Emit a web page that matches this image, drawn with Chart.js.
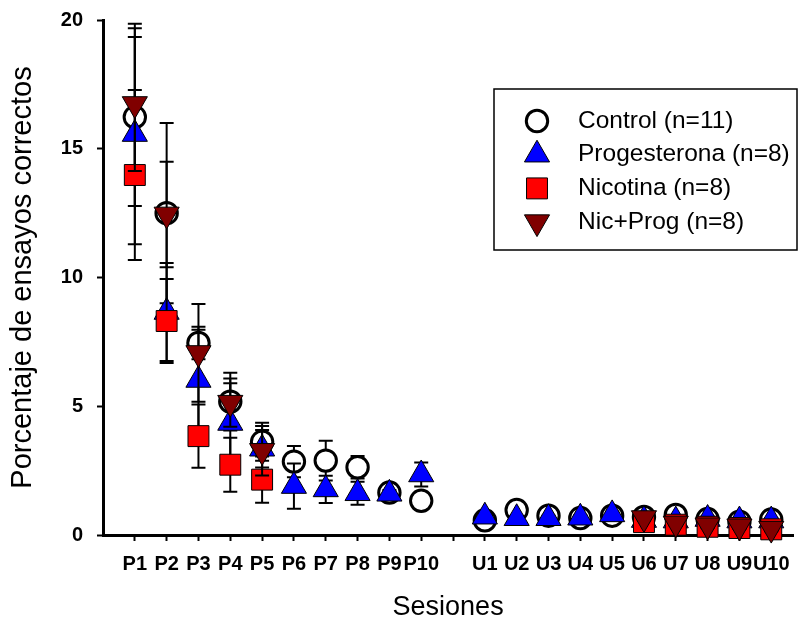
<!DOCTYPE html>
<html>
<head>
<meta charset="utf-8">
<title>Porcentaje de ensayos correctos</title>
<script src="https://cdn.jsdelivr.net/npm/chart.js@4.4.1/dist/chart.umd.min.js"></script>
<style>
  html, body { margin:0; padding:0; background:#fff; }
  #wrap { width:809px; height:625px; position:relative; }
</style>
</head>
<body>
<div id="wrap"><canvas id="chart"></canvas></div>
<script>
const FONT = 'Arial, "Liberation Sans", sans-serif';

// x categories (index 10 is the empty gap between the two phases)
const sessions = ["P1","P2","P3","P4","P5","P6","P7","P8","P9","P10","",
                  "U1","U2","U3","U4","U5","U6","U7","U8","U9","U10"];

const control    = [16.23, 12.5, 7.46, 5.18, 3.62, 2.85, 2.89, 2.63, 1.65, 1.33, null,
                    0.57, 0.97, 0.75, 0.66, 0.75, 0.70, 0.78, 0.62, 0.52, 0.60];
const controlSE  = [3.45, 3.5, 0.63, 1.12, 0.74, 0.61, 0.77, 0.44, 0.15, 0.2, null,
                    0.1, 0.1, 0.1, 0.1, 0.1, 0.1, 0.1, 0.1, 0.1, 0.1];

const progest    = [15.57, 8.66, 6.02, 4.35, 3.35, 1.90, 1.77, 1.62, 1.60, 2.35, null,
                    0.71, 0.65, 0.65, 0.67, 0.80, 0.58, 0.56, 0.62, 0.56, 0.56];
const progestSE  = [4.28, 1.9, 1.95, 1.54, 0.73, 0.88, 0.53, 0.45, 0.15, 0.47, null,
                    0.1, 0.1, 0.1, 0.1, 0.1, 0.1, 0.1, 0.1, 0.1, 0.1];

const nicotina   = [13.98, 8.31, 3.84, 2.73, 2.15, null, null, null, null, null, null,
                    null, null, null, null, null, 0.50, 0.40, 0.32, 0.27, 0.22];
const nicotinaSE = [3.3, 1.63, 1.23, 1.05, 0.9, null, null, null, null, null, null,
                    null, null, null, null, null, 0.1, 0.1, 0.1, 0.1, 0.1];

const nicProg    = [16.74, 12.45, 7.07, 5.14, 3.27, null, null, null, null, null, null,
                    null, null, null, null, null, 0.66, 0.45, 0.38, 0.34, 0.25];
const nicProgSE  = [2.6, 2.05, 1.9, 0.94, 0.96, null, null, null, null, null, null,
                    null, null, null, null, null, 0.1, 0.1, 0.1, 0.1, 0.1];

const yTicks = [0, 5, 10, 15, 20];

function points(vals, se){
  const out = [];
  vals.forEach((v, i) => { if (v !== null) out.push({ x: i, y: v, se: se[i] }); });
  return out;
}

// error bars are drawn per dataset, just before its markers
const errorBars = {
  id: "errorBars",
  beforeDatasetDraw(chart, args){
    const ds = chart.data.datasets[args.index];
    const xs = chart.scales.x, ys = chart.scales.y;
    const ctx = chart.ctx;
    ctx.save();
    ctx.strokeStyle = "#000";
    ctx.lineWidth = 2;
    ds.data.forEach(p => {
      if (!p.se) return;
      const px = xs.getPixelForValue(p.x);
      const top = ys.getPixelForValue(p.y + p.se);
      const bot = ys.getPixelForValue(p.y - p.se);
      ctx.beginPath();
      ctx.moveTo(px, top); ctx.lineTo(px, bot);
      ctx.moveTo(px - 7, top); ctx.lineTo(px + 7, top);
      ctx.moveTo(px - 7, bot); ctx.lineTo(px + 7, bot);
      ctx.stroke();
    });
    ctx.restore();
  }
};

const legendLabels = ["Control (n=11)", "Progesterona (n=8)", "Nicotina (n=8)", "Nic+Prog (n=8)"];

const boxLegend = {
  id: "boxLegend",
  afterDraw(chart){
    const ctx = chart.ctx;
    ctx.save();
    ctx.strokeStyle = "#000";
    ctx.lineWidth = 1.5;
    ctx.strokeRect(494, 89, 303, 161);
    ctx.font = "24.5px " + FONT;
    ctx.textBaseline = "middle";
    ctx.textAlign = "left";
    // legend rows: Control, Progesterona, Nicotina, Nic+Prog
    const order = [3, 2, 1, 0];
    order.forEach((di, row) => {
      const ds = chart.data.datasets[di];
      const y = 121 + row * 33.7;
      ctx.fillStyle = ds.pointBackgroundColor;
      ctx.strokeStyle = ds.pointBorderColor;
      ctx.lineWidth = ds.pointBorderWidth;
      Chart.helpers.drawPoint(ctx, {
        pointStyle: ds.pointStyle, rotation: ds.pointRotation || 0,
        radius: ds.pointRadius, borderWidth: ds.pointBorderWidth
      }, 537, y);
      ctx.fillStyle = "#000";
      ctx.fillText(legendLabels[row], 578, y);
    });
    ctx.restore();
  }
};

new Chart(document.getElementById("chart"), {
  type: "scatter",
  data: {
    datasets: [
      { label: "Nic+Prog (n=8)", data: points(nicProg, nicProgSE), order: 1,
        pointStyle: "triangle", pointRotation: 180, pointRadius: 14.5, pointHoverRadius: 14.5,
        pointBackgroundColor: "#800000", pointBorderColor: "#000", pointBorderWidth: 1 },
      { label: "Nicotina (n=8)", data: points(nicotina, nicotinaSE), order: 2,
        pointStyle: "rect", pointRadius: 14.8, pointHoverRadius: 14.8,
        pointBackgroundColor: "#ff0000", pointBorderColor: "#000", pointBorderWidth: 1 },
      { label: "Progesterona (n=8)", data: points(progest, progestSE), order: 3,
        pointStyle: "triangle", pointRadius: 14.5, pointHoverRadius: 14.5,
        pointBackgroundColor: "#0000ff", pointBorderColor: "#000", pointBorderWidth: 1 },
      { label: "Control (n=11)", data: points(control, controlSE), order: 4,
        pointStyle: "circle", pointRadius: 10.7, pointHoverRadius: 10.7,
        pointBackgroundColor: "#ffffff", pointBorderColor: "#000", pointBorderWidth: 3 }
    ]
  },
  options: {
    responsive: true,
    maintainAspectRatio: false,
    animation: false,
    events: [],
    clip: false,
    layout: { padding: { top: 20, right: 0, bottom: 0, left: 0 } },
    plugins: { legend: { display: false }, tooltip: { enabled: false } },
    scales: {
      x: {
        type: "linear", min: -1, max: 20.69,
        afterBuildTicks(scale){ scale.ticks = sessions.map((s, i) => ({ value: i })); },
        afterFit(scale){ scale.height = 90; scale.paddingLeft = 0; scale.paddingRight = 0; },
        grid: { display: true, drawOnChartArea: false, drawTicks: true, tickLength: 6, tickWidth: 2, tickColor: "#000" },
        border: { display: true, color: "#000", width: 3 },
        ticks: {
          autoSkip: false, maxRotation: 0, minRotation: 0, padding: 11, color: "#000",
          font: { family: FONT, size: 20, weight: "bold" },
          callback: (v, i) => sessions[i]
        },
        title: { display: true, text: "Sesiones", color: "#000",
                 font: { family: FONT, size: 27 }, padding: { top: 0, bottom: 1 } }
      },
      y: {
        min: 0, max: 20,
        afterBuildTicks(scale){ scale.ticks = yTicks.map(v => ({ value: v })); },
        afterFit(scale){ scale.width = 103; scale.paddingTop = 0; scale.paddingBottom = 0; },
        grid: { display: true, drawOnChartArea: false, drawTicks: true, tickLength: 6, tickWidth: 2, tickColor: "#000" },
        border: { display: true, color: "#000", width: 3 },
        ticks: { padding: 14, color: "#000", font: { family: FONT, size: 20, weight: "bold" } },
        title: { display: true, text: "Porcentaje de ensayos correctos", color: "#000",
                 font: { family: FONT, size: 29 }, padding: { top: 6, bottom: 0 } }
      }
    }
  },
  plugins: [errorBars, boxLegend]
});
</script>
</body>
</html>
